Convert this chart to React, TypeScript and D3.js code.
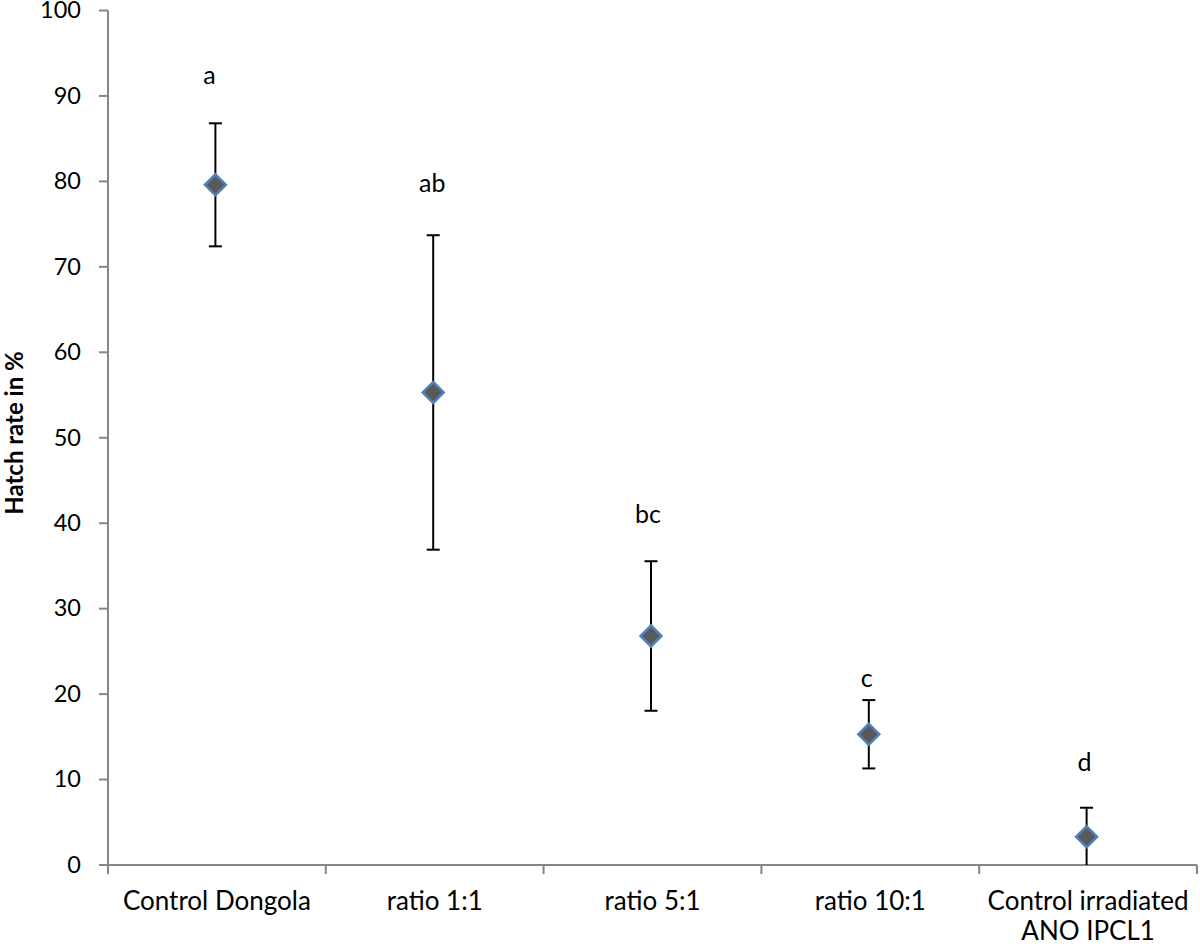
import React from "react";
import * as d3 from "d3";

const categories: string[][] = [
  ["Control Dongola"],
  ["ratio 1:1"],
  ["ratio 5:1"],
  ["ratio 10:1"],
  ["Control irradiated", "ANO IPCL1"],
];
const means = [79.6, 55.3, 26.8, 15.3, 3.3];
const errors = [7.2, 18.4, 8.75, 4.0, 3.4];
const letters = ["a", "ab", "bc", "c", "d"];
const letterValues = [91.4, 78.8, 40.0, 20.8, 11.0];
const letterShift = [-6, -1, -3, -2, -2];
const yTicks = [0, 10, 20, 30, 40, 50, 60, 70, 80, 90, 100];

const W = 1200;
const H = 947;
const left = 108;
const right = 1197;
const top = 10.5;
const bottom = 865;
const FONT = "Lato, 'Open Sans', sans-serif";

export default function App() {
  const x = d3
    .scaleBand<number>()
    .domain(d3.range(categories.length))
    .range([left, right])
    .padding(0);
  const y = d3.scaleLinear().domain([0, 100]).range([bottom, top]);
  const axisColor = "#868686";
  const bounds = d3.range(categories.length + 1).map((i) => left + i * x.bandwidth());

  return (
    <svg
      width={W}
      height={H}
      style={{ position: "absolute", left: 0, top: 0, background: "#fff" }}
    >
      {/* y axis */}
      <line x1={left} x2={left} y1={top} y2={bottom} stroke={axisColor} strokeWidth={2} />
      {yTicks.map((t) => (
        <g key={t}>
          <line x1={left - 9} x2={left} y1={y(t)} y2={y(t)} stroke={axisColor} strokeWidth={2} />
          <text
            x={81}
            y={y(t)}
            dy="0.33em"
            textAnchor="end"
            fontFamily={FONT}
            fontSize={23.5}
            fill="#000"
          >
            {t}
          </text>
        </g>
      ))}
      {/* x axis */}
      <line x1={left - 9} x2={right} y1={bottom} y2={bottom} stroke={axisColor} strokeWidth={2} />
      {bounds.map((b, i) => (
        <line key={i} x1={b} x2={b} y1={bottom} y2={bottom + 9} stroke={axisColor} strokeWidth={2} />
      ))}
      {categories.map((lines, i) => (
        <text
          key={i}
          x={(x(i) as number) + x.bandwidth() / 2}
          y={910}
          textAnchor="middle"
          fontFamily={FONT}
          fontSize={26}
          fill="#000"
        >
          {lines.map((l, j) => (
            <tspan key={j} x={(x(i) as number) + x.bandwidth() / 2} dy={j === 0 ? 0 : 30}>
              {l}
            </tspan>
          ))}
        </text>
      ))}
      {/* y title */}
      <text
        transform={`translate(23, ${433}) rotate(-90)`}
        textAnchor="middle"
        fontFamily={FONT}
        fontSize={24}
        fontWeight="bold"
        fill="#000"
      >
        Hatch rate in %
      </text>
      {/* error bars + markers */}
      {means.map((m, i) => {
        const cx = (x(i) as number) + x.bandwidth() / 2 - 1.5;
        const hi = m + errors[i];
        const lo = m - errors[i];
        const yHi = y(hi);
        const yLo = y(Math.max(lo, 0));
        const s = 10.5;
        return (
          <g key={i}>
            <line x1={cx} x2={cx} y1={yHi} y2={yLo} stroke="#000" strokeWidth={2} />
            <line x1={cx - 6.5} x2={cx + 6.5} y1={yHi} y2={yHi} stroke="#000" strokeWidth={2} />
            {lo >= 0 && (
              <line x1={cx - 6.5} x2={cx + 6.5} y1={yLo} y2={yLo} stroke="#000" strokeWidth={2} />
            )}
            <path
              d={`M${cx},${y(m) - s}L${cx + s},${y(m)}L${cx},${y(m) + s}L${cx - s},${y(m)}Z`}
              fill="#595959"
              stroke="#4f81bd"
              strokeWidth={2.5}
            />
            <text
              x={cx + letterShift[i]}
              y={y(letterValues[i])}
              textAnchor="middle"
              fontFamily={FONT}
              fontSize={25}
              fill="#000"
            >
              {letters[i]}
            </text>
          </g>
        );
      })}
    </svg>
  );
}
